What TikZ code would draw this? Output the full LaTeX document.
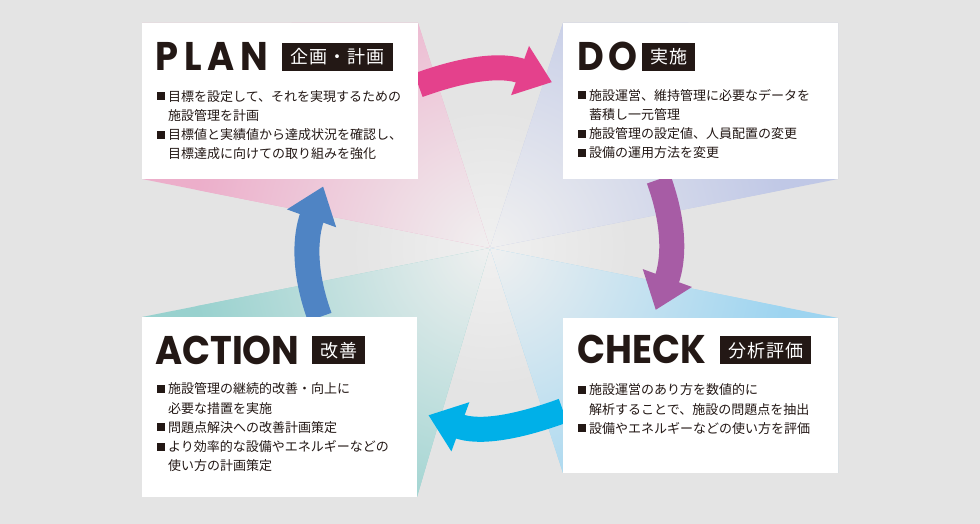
\documentclass[tikz,border=0pt]{standalone}
\usepackage{fontspec}
\usepackage{graphicx}
\usepackage{tikz}
\usetikzlibrary{arrows.meta,positioning}
\newfontfamily\jp{Noto Sans CJK JP}
\newfontfamily\ttlfont{Poppins}
\definecolor{bgcol}{HTML}{E4E4E4}
\definecolor{glow}{HTML}{F0F0F0}
\definecolor{ink}{HTML}{231815}
\definecolor{pinkray}{HTML}{ECAECA}
\definecolor{lavray}{HTML}{C0C8E6}
\definecolor{blueray}{HTML}{9DD4F0}
\definecolor{tealray}{HTML}{98D1CE}
\definecolor{pinkarr}{HTML}{E4418C}
\definecolor{purparr}{HTML}{A75CA5}
\definecolor{cyanarr}{HTML}{00B0E8}
\definecolor{bluearr}{HTML}{4F84C4}
\pgfdeclarelayer{back}
\pgfsetlayers{back,main}
\newcommand\sqb{\rule[1pt]{8pt}{8pt}\hspace{3pt}}
\newcommand\sqi{\hspace*{11pt}}
\newcommand\ttlx[2]{\scalebox{0.92}[1]{\addfontfeature{LetterSpace=#1}#2}}
% one faded ray: colour, then its corners
\newcommand\ray[2]{%
    \begin{scope}
        \clip (ctr) -- #2 -- cycle;
        \fill[#1] (0,0) rectangle (980,524);
        \shade[inner color=glow, outer color=#1] (ctr) circle (300);
    \end{scope}}
\tikzset{
    box/.style={fill=white, inner sep=0pt, anchor=north west},
    ttl/.style={font=\ttlfont\bfseries\fontsize{40}{40}\selectfont, text=ink, inner sep=0pt, anchor=base west},
    tag/.style={fill=ink, text=white, font=\jp\fontsize{18}{18}\selectfont\addfontfeature{LetterSpace=6}, minimum height=28pt, inner xsep=8pt, inner ysep=0pt, anchor=west},
    body/.style={font=\jp\fontsize{13}{19.3}\selectfont, text=ink, align=left, inner sep=0pt, anchor=base west},
    arr/.style={line width=25pt, -{Triangle[width=50pt,length=34pt]}},
}
\begin{document}
\begin{tikzpicture}[x=1pt,y=1pt]
    \useasboundingbox (0,0) rectangle (980,524);
    \coordinate (ctr) at (490,276);

    % boxes
    \node[box, minimum width=276pt, minimum height=156pt] (plan) at (142,501) {};
    \node[box, minimum width=275pt, minimum height=156pt] (do) at (563,501) {};
    \node[box, minimum width=275pt, minimum height=155pt] (check) at (563,206) {};
    \node[box, minimum width=275pt, minimum height=180pt] (action) at (142,207) {};

    % titles
    \node[ttl] (planT) at (155,453) {\ttlx{16}{PLAN}};
    \node[tag] (planG) at (282,467) {企画・計画};
    \node[ttl] (doT) at (577,453) {\ttlx{12}{DO}};
    \node[tag] (doG) at (642,467) {実施};
    \node[ttl] (checkT) at (577,160) {\ttlx{0}{CHECK}};
    \node[tag] (checkG) at (720,173.5) {分析評価};
    \node[ttl] (actionT) at (155,159) {\ttlx{0}{ACTION}};
    \node[tag] (actionG) at (312,173.5) {改善};

    % texts (base = last line)
    \node[body] (planB) at (157,365) {\sqb 目標を設定して、それを実現するための\\
        \sqi 施設管理を計画\\
        \sqb 目標値と実績値から達成状況を確認し、\\
        \sqi 目標達成に向けての取り組みを強化};
    \node[body] (doB) at (578,366) {\sqb 施設運営、維持管理に必要なデータを\\
        \sqi 蓄積し一元管理\\
        \sqb 施設管理の設定値、人員配置の変更\\
        \sqb 設備の運用方法を変更};
    \node[body] (checkB) at (578,90.5) {\sqb 施設運営のあり方を数値的に\\
        \sqi 解析することで、施設の問題点を抽出\\
        \sqb 設備やエネルギーなどの使い方を評価};
    \node[body] (actionB) at (157,53) {\sqb 施設管理の継続的改善・向上に\\
        \sqi 必要な措置を実施\\
        \sqb 問題点解決への改善計画策定\\
        \sqb より効率的な設備やエネルギーなどの\\
        \sqi 使い方の計画策定};

    \begin{pgfonlayer}{back}
        \fill[bgcol] (0,0) rectangle (980,524);
        \shade[inner color=glow, outer color=bgcol] (ctr) circle (140);
        % rays
        \ray{pinkray}{(142,345) -- (142,501) -- (418,501)}
        \ray{lavray}{(563,501) -- (838,501) -- (838,345)}
        \ray{blueray}{(838,206) -- (838,51) -- (563,51)}
        \ray{tealray}{(417,27) -- (142,27) -- (142,207)}
        % cycle arrows
        \draw[arr, pinkarr] ([yshift=16pt]plan.east) to[out=20, in=160] ([xshift=-11pt, yshift=19pt]do.west);
        \draw[arr, purparr] ([xshift=-42pt]do.south) to[out=-70, in=70] ([xshift=-45pt, yshift=8pt]check.north);
        \draw[arr, cyanarr] ([yshift=-15pt]check.west) to[out=200, in=340] ([xshift=11pt, yshift=-8pt]action.east);
        \draw[arr, bluearr] ([xshift=40pt]action.north) to[out=110, in=250] ([xshift=43pt, yshift=-7pt]plan.south);
    \end{pgfonlayer}
\end{tikzpicture}
\end{document}
